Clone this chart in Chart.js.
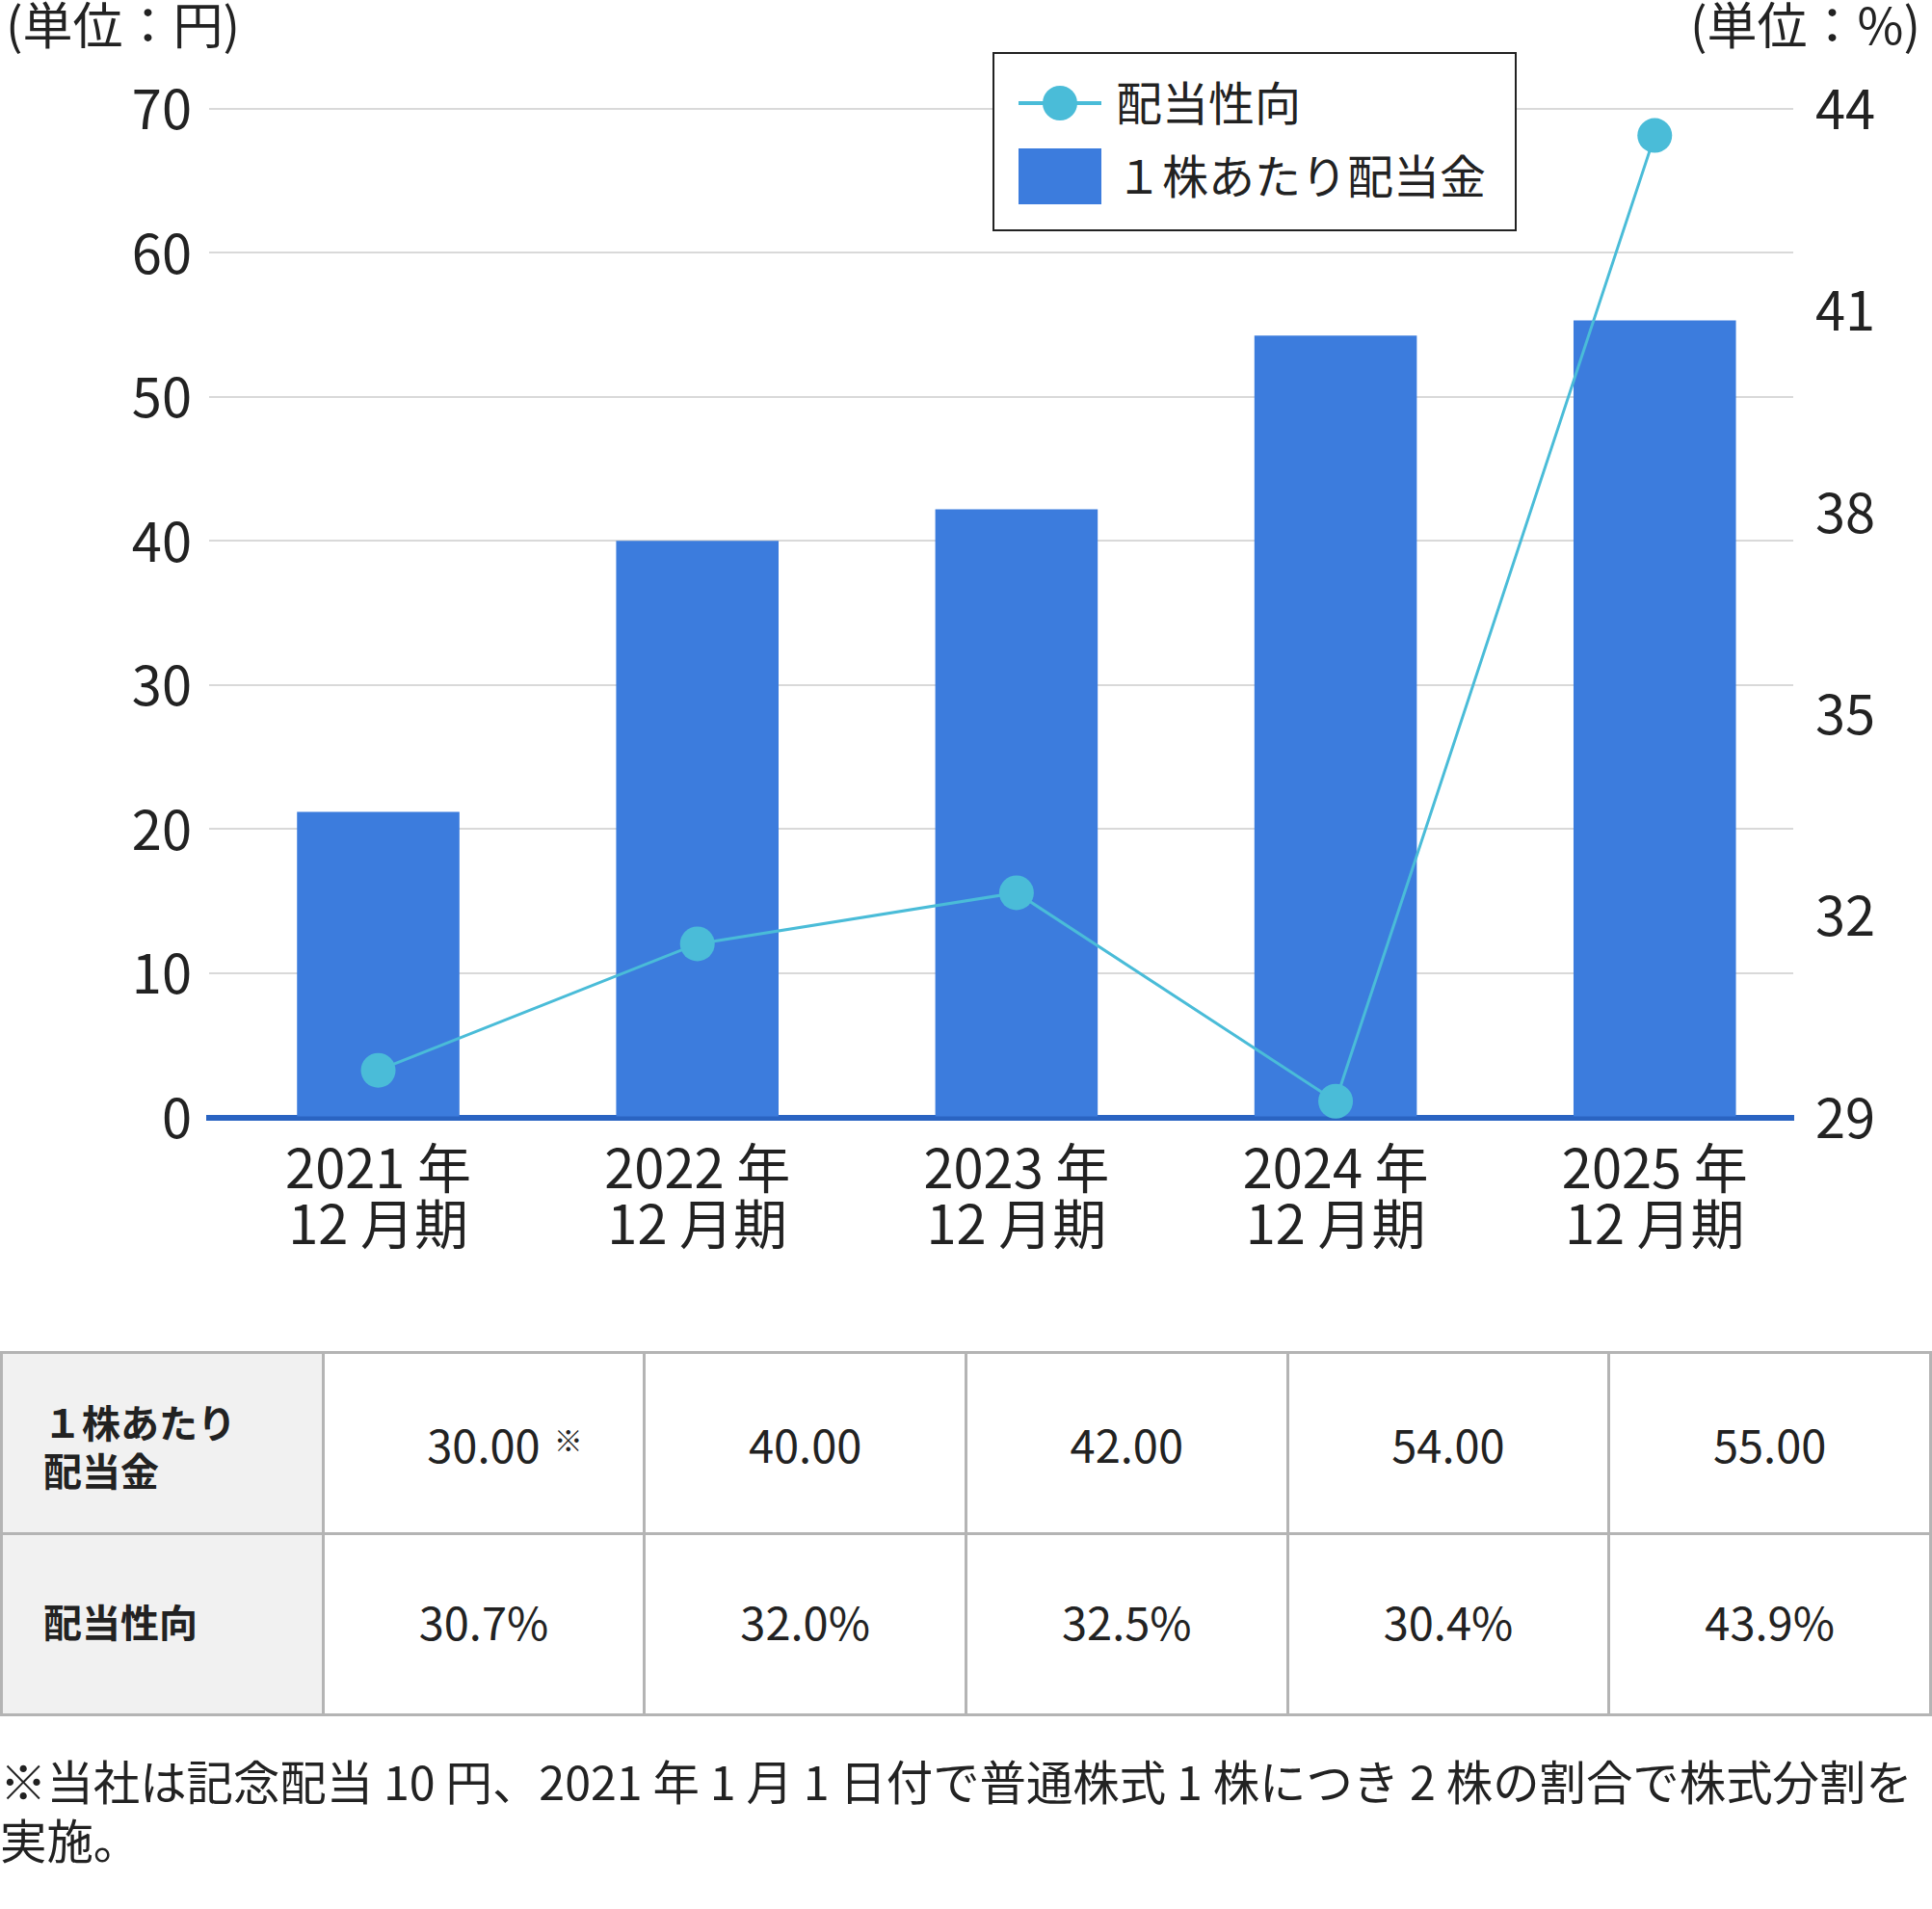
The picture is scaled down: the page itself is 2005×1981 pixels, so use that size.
<!DOCTYPE html>
<html lang="ja">
<head>
<meta charset="utf-8">
<title>配当金・配当性向</title>
<script src="https://cdn.jsdelivr.net/npm/chart.js@4.4.1/dist/chart.umd.min.js"></script>
<style>
html,body{margin:0;padding:0;background:#fff;}
body{width:2005px;height:1981px;position:relative;overflow:hidden;font-family:"Noto Sans CJK JP","Noto Sans",sans-serif;color:#222;}
#wrap{position:absolute;left:0;top:0;width:2005px;height:1340px;}
.unit{position:absolute;top:-2px;font-size:52px;line-height:52px;white-space:nowrap;}
#unitL{left:6px;}
#unitR{right:12px;}
#legend{position:absolute;left:1030px;top:54px;width:544px;height:186px;border:2px solid #222;box-sizing:border-box;background:#fff;}
.lg-line{position:absolute;left:25px;width:86px;height:4px;}
.lg-dot{position:absolute;width:36px;height:36px;border-radius:50%;}
.lg-box{position:absolute;left:25px;width:86px;height:58px;}
.lg-text{position:absolute;left:126px;font-size:48px;line-height:48px;white-space:nowrap;}
#table{position:absolute;left:0;top:1402px;width:2005px;box-sizing:border-box;padding:3px;background:#b4b4b4;display:grid;grid-template-columns:repeat(6,1fr);grid-auto-rows:185px;gap:3px;}
.cell{background:#fff;display:flex;align-items:center;justify-content:center;font-size:47px;line-height:47px;white-space:nowrap;box-sizing:border-box;}
.row2{padding-bottom:8px;}
.head{background:#f1f1f1;justify-content:flex-start;padding-left:42px;font-weight:bold;font-size:40px;line-height:50px;}
.head.row1{padding-top:4px;}
.note{position:relative;}
.note sup{position:absolute;left:100%;top:4px;margin-left:14px;font-size:30px;line-height:30px;vertical-align:baseline;}
#foot{position:absolute;left:0;top:1817px;font-size:48.4px;line-height:61px;white-space:nowrap;}
</style>
</head>
<body>
<div id="wrap"><canvas id="c"></canvas></div>
<div class="unit" id="unitL">(単位：円)</div>
<div class="unit" id="unitR">(単位：%)</div>
<div id="legend"></div>
<div id="table"></div>
<div id="foot">※当社は記念配当 10 円、2021 年 1 月 1 日付で普通株式 1 株につき 2 株の割合で株式分割を<br>実施。</div>
<script>
// ---- data ----
const categories = ['2021年12月期', '2022年12月期', '2023年12月期', '2024年12月期', '2025年12月期'];
const xTickLabels = [['2021 年', '12 月期'], ['2022 年', '12 月期'], ['2023 年', '12 月期'], ['2024 年', '12 月期'], ['2025 年', '12 月期']];
const dividendPerShare = [21.2, 40.0, 42.2, 54.25, 55.3];      // 1株あたり配当金 (円) as plotted
const payoutRatio = [29.7, 31.58, 32.34, 29.24, 43.6];         // 配当性向 (%) as plotted
const leftTickValues = [0, 10, 20, 30, 40, 50, 60, 70];
const rightTickValues = [29, 32, 35, 38, 41, 44];
const seriesNames = ['配当性向', '１株あたり配当金'];
const tableRowHeads = [['１株あたり', '配当金'], ['配当性向']];
const tableDividendText = ['30.00', '40.00', '42.00', '54.00', '55.00'];
const tablePayoutText = ['30.7%', '32.0%', '32.5%', '30.4%', '43.9%'];
const tableNoteIndex = 0;

// ---- style ----
const BAR = '#3C7CDD';
const LINE = '#4ABCD8';
const AXIS = '#2A64C2';
const GRID = '#d9d9d9';
const TXT = '#222222';

Chart.defaults.font.family = '"Noto Sans CJK JP", "Noto Sans", sans-serif';
Chart.defaults.color = TXT;

const ctx = document.getElementById('c');
const chart = new Chart(ctx, {
  type: 'bar',
  data: {
    datasets: [
      {
        type: 'line', label: seriesNames[0],
        data: payoutRatio.map((v, i) => ({ x: i, y: v })),
        xAxisID: 'x', yAxisID: 'y2',
        borderColor: LINE, backgroundColor: LINE, borderWidth: 3,
        pointRadius: 18, pointHoverRadius: 18, pointBorderWidth: 0,
        pointBackgroundColor: LINE, tension: 0, clip: false, order: 0
      },
      {
        type: 'bar', label: seriesNames[1],
        data: dividendPerShare.map((v, i) => ({ x: i, y: v })),
        xAxisID: 'x', yAxisID: 'y',
        backgroundColor: BAR, borderWidth: 0,
        categoryPercentage: 1, barPercentage: 0.509, order: 1
      }
    ]
  },
  options: {
    responsive: true, maintainAspectRatio: false, animation: false,
    devicePixelRatio: 1,
    layout: { padding: { top: 112.7, left: 0, right: 0, bottom: 0 } },
    plugins: { legend: { display: false }, tooltip: { enabled: false } },
    events: [],
    scales: {
      x: {
        type: 'linear', position: 'bottom', offset: false,
        min: -0.530, max: 4.434,
        grid: { display: false, drawTicks: false },
        border: { display: true, color: AXIS, width: 6 },
        afterBuildTicks: s => { s.ticks = xTickLabels.map((_, i) => ({ value: i })); },
        afterFit: s => { s.height = 180.5; },
        ticks: {
          autoSkip: false, maxRotation: 0, minRotation: 0, padding: 23, color: TXT,
          font: { size: 56, lineHeight: 1.04 },
          callback: v => xTickLabels[v]
        }
      },
      y: {
        position: 'left', min: 0, max: 70,
        grid: { color: GRID, lineWidth: 2, drawTicks: false },
        border: { display: false },
        afterBuildTicks: s => { s.ticks = leftTickValues.map(v => ({ value: v })); },
        afterFit: s => { s.width = 217; },
        ticks: { padding: 18, color: TXT, font: { size: 56 } }
      },
      y2: {
        position: 'right', min: 29, max: 44,
        grid: { display: false, drawTicks: false, drawOnChartArea: false },
        border: { display: false },
        afterBuildTicks: s => { s.ticks = rightTickValues.map(v => ({ value: v })); },
        afterFit: s => { s.width = 144; },
        ticks: { padding: 23, color: TXT, font: { size: 56 } }
      }
    }
  }
});

// ---- HTML legend built from the chart's datasets ----
(function buildLegend() {
  const lg = document.getElementById('legend');
  const ds = chart.data.datasets;
  // line item
  const l = document.createElement('div'); l.className = 'lg-line'; l.style.top = '48.7px'; l.style.background = ds[0].borderColor; lg.appendChild(l);
  const d = document.createElement('div'); d.className = 'lg-dot'; d.style.left = '50px'; d.style.top = '32.7px'; d.style.background = ds[0].pointBackgroundColor; lg.appendChild(d);
  const t1 = document.createElement('div'); t1.className = 'lg-text'; t1.style.top = '24px'; t1.textContent = ds[0].label; lg.appendChild(t1);
  // bar item
  const b = document.createElement('div'); b.className = 'lg-box'; b.style.top = '98px'; b.style.background = ds[1].backgroundColor; lg.appendChild(b);
  const t2 = document.createElement('div'); t2.className = 'lg-text'; t2.style.top = '100px'; t2.textContent = ds[1].label; lg.appendChild(t2);
})();

// ---- table ----
(function buildTable() {
  const tb = document.getElementById('table');
  const rows = [tableDividendText, tablePayoutText];
  rows.forEach((vals, r) => {
    const rc = 'row' + (r + 1);
    const h = document.createElement('div'); h.className = 'cell head ' + rc;
    h.innerHTML = tableRowHeads[r].join('<br>');
    tb.appendChild(h);
    vals.forEach((v, i) => {
      const c = document.createElement('div'); c.className = 'cell ' + rc;
      if (r === 0 && i === tableNoteIndex) {
        c.innerHTML = '<span class="note">' + v + '<sup>※</sup></span>';
      } else {
        c.textContent = v;
      }
      tb.appendChild(c);
    });
  });
})();
</script>
</body>
</html>
